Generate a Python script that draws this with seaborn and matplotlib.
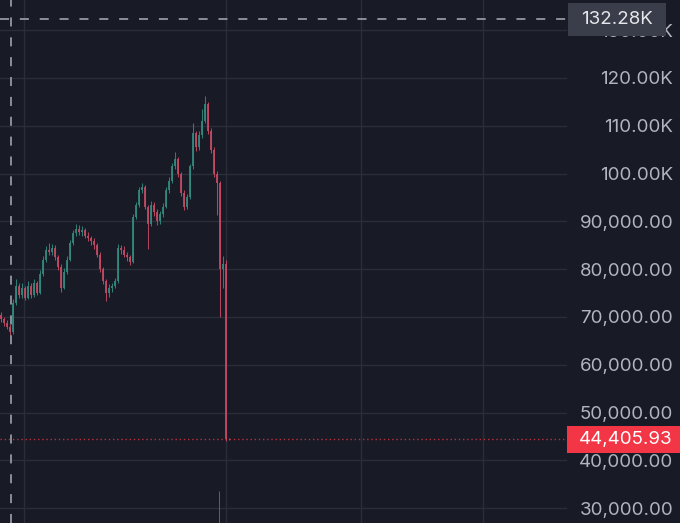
import numpy as np
import pandas as pd
import seaborn as sns
import matplotlib.pyplot as plt
from matplotlib.patches import Rectangle
from matplotlib.transforms import IdentityTransform

# candle data (thousands), one candle per bar slot
closes = [69.5, 68.8, 68.0, 66.8, 73.0, 76.5, 74.5, 76.0, 74.0, 76.5,
          74.5, 77.0, 75.0, 79.0, 82.0, 84.0, 83.5, 84.5, 82.5, 80.5,
          76.0, 79.5, 82.0, 85.5, 87.5, 88.5, 87.8, 88.2, 87.0, 86.5,
          85.8, 85.0, 83.0, 80.0, 77.5, 75.0, 76.0, 76.5, 77.5, 84.5,
          84.0, 83.0, 82.5, 81.5, 91.0, 93.5, 96.5, 97.2, 93.0, 89.5,
          93.5, 92.0, 90.0, 91.5, 93.0, 96.5, 98.5, 101.5, 103.0, 100.0,
          96.0, 93.0, 95.0, 101.5, 108.5, 105.5, 108.0, 111.0, 114.5, 109.0,
          105.0, 100.0, 98.0, 80.0, 81.0, 44.40593, 44.40593]
highs = [71.0, 70.0, 69.3, 68.5, 73.8, 78.0, 77.0, 77.2, 76.5, 77.5,
         77.0, 78.0, 77.5, 79.8, 82.8, 84.8, 85.5, 85.2, 85.0, 83.0,
         81.0, 80.2, 82.8, 86.0, 88.2, 89.5, 89.2, 89.0, 88.6, 87.8,
         87.0, 86.5, 85.4, 83.5, 80.5, 78.0, 76.8, 77.2, 78.2, 85.2,
         85.0, 84.8, 83.6, 83.0, 91.5, 94.0, 97.2, 98.0, 97.5, 93.4,
         94.2, 94.0, 92.5, 92.2, 93.8, 97.2, 99.2, 102.3, 104.5, 103.5,
         100.4, 96.5, 95.8, 102.0, 110.5, 109.0, 108.8, 113.5, 116.3, 115.0,
         109.5, 105.5, 100.5, 98.5, 82.8, 82.0, 44.7]
lows = [69.0, 68.2, 67.5, 66.2, 66.5, 72.5, 74.0, 74.0, 73.5, 73.8,
        74.0, 74.2, 74.5, 74.8, 78.5, 81.5, 83.0, 83.0, 82.0, 79.8,
        75.2, 75.8, 79.0, 81.8, 85.0, 87.0, 87.2, 87.0, 86.5, 85.8,
        85.0, 84.3, 82.5, 79.5, 76.8, 73.4, 74.2, 75.3, 76.0, 77.2,
        83.2, 82.5, 81.8, 80.8, 81.2, 90.5, 93.0, 96.0, 92.5, 84.2,
        89.0, 91.2, 89.2, 89.5, 91.0, 92.8, 96.0, 98.0, 101.0, 99.3,
        95.4, 92.3, 92.6, 94.6, 101.0, 104.8, 105.0, 107.5, 110.5, 108.3,
        104.2, 99.2, 91.4, 70.0, 76.0, 44.0, 44.2]
first_open = 70.5

# stray wick below the chart
stray_wick_idx = 72.7
stray_wick_top = 33.6
stray_wick_bottom = 25.0

last_price = 44405.93
crosshair_price = 132280
crosshair_idx = 3.33
time_grid = [7.67, 75, 120, 160.67]
price_ticks = [30000, 40000, 50000, 60000, 70000, 80000, 90000,
               100000, 110000, 120000, 130000]

df = pd.DataFrame({"close": np.array(closes) * 1000,
                   "high": np.array(highs) * 1000,
                   "low": np.array(lows) * 1000})
df["open"] = df["close"].shift(1).fillna(first_open * 1000)
df["idx"] = np.arange(len(df))
df["up"] = df["close"] >= df["open"]

bg = "#181a25"
grid_c = "#2a2d3a"
text_c = "#b2b5be"
up_c = "#33897f"
down_c = "#c24a62"

sns.set_theme(style="dark", rc={"axes.facecolor": bg, "figure.facecolor": bg,
                                "axes.grid": False})
plt.rcParams["font.family"] = ["Inter", "DejaVu Sans"]

fig = plt.figure(figsize=(6.8, 5.23), dpi=100)
ax = fig.add_axes([0, 0, 567 / 680, 1])
ax.set_xlim(-0.333, 188.67)
ax.set_ylim(26900, 136300)

# grid
for p in price_ticks:
    ax.axhline(p, color=grid_c, lw=1, zorder=0)
for t in time_grid:
    ax.axvline(t, color=grid_c, lw=1, zorder=0)

# candles
colors = np.where(df["up"], up_c, down_c)
ax.vlines(df["idx"], df["low"], df["high"], colors=colors, lw=0.75, zorder=2,
          alpha=0.9)
body = (df["close"] - df["open"]).abs().clip(lower=150)
bottom = df[["open", "close"]].min(axis=1)
ax.bar(df["idx"], body, bottom=bottom, width=0.45, color=colors, zorder=3,
       linewidth=0, alpha=0.9)
ax.vlines([stray_wick_idx], stray_wick_bottom * 1000, stray_wick_top * 1000,
          colors=down_c, lw=0.75, zorder=2, alpha=0.8)

# last price line
ax.axhline(last_price, color="#f23645", lw=1, ls=(0, (1, 2)), alpha=0.75, zorder=4)

# crosshair
ax.axhline(crosshair_price, color="#9598a1", lw=1.3, ls=(0, (5, 6)), zorder=5)
ax.axvline(crosshair_idx, color="#9598a1", lw=1.3, ls=(0, (5, 6)), zorder=5)

# right price scale
ax.yaxis.tick_right()
ax.set_yticks(price_ticks)
ax.set_yticklabels([f"{v / 1000:.2f}K" if v >= 100000 else f"{v:,.2f}"
                    for v in price_ticks])
ax.tick_params(axis="y", length=0, pad=76.5, labelsize=13.5, labelcolor=text_c)
for lab in ax.get_yticklabels():
    lab.set_horizontalalignment("right")
ax.set_xticks([])
for s in ax.spines.values():
    s.set_visible(False)

fig.canvas.draw()

# price badges
y_cross = ax.transData.transform((0, crosshair_price))[1]
fig.add_artist(Rectangle((568, y_cross - 16.5), 98, 33, transform=IdentityTransform(),
                         facecolor="#3a3d4a", edgecolor="none", zorder=10))
fig.text(617, y_cross, f"{crosshair_price / 1000:.2f}K", transform=IdentityTransform(),
         ha="center", va="center", color="#e6e7ea", fontsize=13.5, zorder=11)

y_last = ax.transData.transform((0, last_price))[1]
fig.add_artist(Rectangle((567, y_last - 13.5), 113, 27, transform=IdentityTransform(),
                         facecolor="#f23645", edgecolor="none", zorder=10))
fig.text(673, y_last, f"{last_price:,.2f}", transform=IdentityTransform(),
         ha="right", va="center", color="white", fontsize=13.5, zorder=11)

fig.savefig("out.png", dpi=100, facecolor=bg)
